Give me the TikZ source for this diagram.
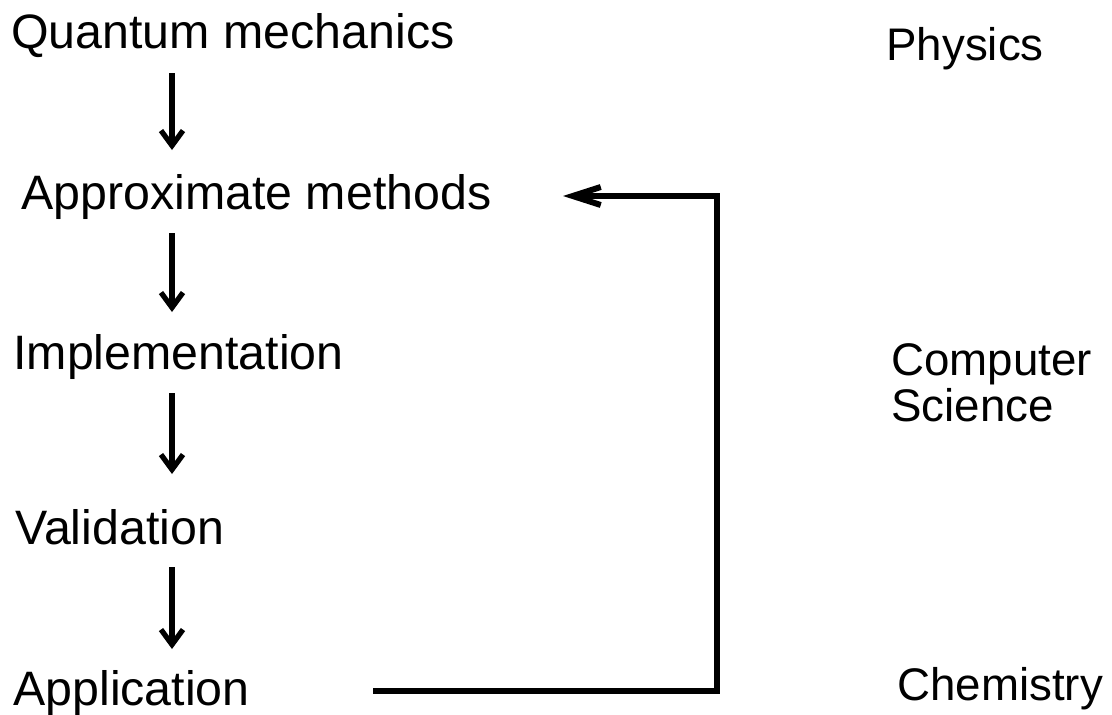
\documentclass[tikz,border=0pt]{standalone}
\usepackage{fontspec}
\setmainfont{Liberation Sans}
\usetikzlibrary{arrows.meta, calc}

\begin{document}
\begin{tikzpicture}[
    x=0.02cm, y=-0.02cm,
    label/.style={anchor=base west, inner sep=0pt, align=left, font=\fontsize{27.5pt}{26pt}\selectfont},
    field/.style={label, font=\fontsize{26pt}{26pt}\selectfont},
    arrow/.style={-{Straight Barb[length=0.3cm, width=0.44cm]}, line width=3pt},
    back/.style={-{Straight Barb[length=0.56cm, width=0.36cm]}, line width=3.4pt}
]
    \useasboundingbox (0,0) rectangle (1112,714);

    % steps on the left
    \node[label] (qm) at (11,48) {Quantum mechanics};
    \node[label] (am) at (21,209) {Approximate methods};
    \node[label] (impl) at (13,369) {Implementation};
    \node[label] (val) at (15,544) {Validation};
    \node[label] (app) at (13,705) {Application};

    % fields on the right
    \node[field] (phys) at (886,60) {Physics};
    \node[field] (cs) at (891,421) {Computer\\Science};
    \node[field] (chem) at (897,700) {Chemistry};

    \coordinate (col) at (172,0);
    \draw[arrow] ($(qm.base -| col)+(0,25)$) -- ($(am.base -| col)+(0,-59)$);
    \draw[arrow] ($(am.base -| col)+(0,24)$) -- ($(impl.base -| col)+(0,-57)$);
    \draw[arrow] ($(impl.base -| col)+(0,24)$) -- ($(val.base -| col)+(0,-70)$);
    \draw[arrow] ($(val.base -| col)+(0,23)$) -- ($(app.base -| col)+(0,-56)$);

    % feedback loop
    \draw[back] ($(app.base west)+(360,-14)$) -| ($(am.base west)+(696,-13)$) -- ($(am.base west)+(542,-13)$);
\end{tikzpicture}
\end{document}
